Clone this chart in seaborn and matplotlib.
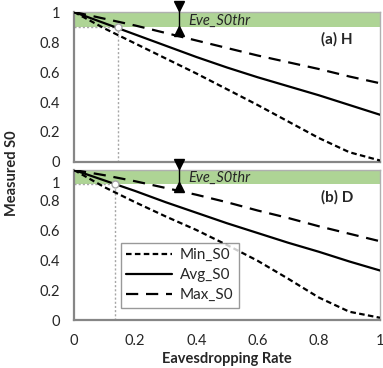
import pandas as pd
import matplotlib
matplotlib.use('Agg')
import matplotlib.pyplot as plt
import seaborn as sns
import numpy as np

sns.set_style('white')
plt.rcParams['font.family'] = ['Lato', 'DejaVu Sans']

# Data
rate = [0.0, 0.1, 0.2, 0.3, 0.4, 0.5, 0.6, 0.7, 0.8, 0.9, 1.0]

h_min = [1.0, 0.89, 0.79, 0.69, 0.59, 0.485, 0.38, 0.27, 0.16, 0.065, 0.01]
h_avg = [1.0, 0.925, 0.85, 0.775, 0.70, 0.63, 0.565, 0.505, 0.445, 0.38, 0.315]
h_max = [1.0, 0.955, 0.91, 0.86, 0.81, 0.76, 0.71, 0.665, 0.62, 0.57, 0.525]

d_min = [1.0, 0.885, 0.785, 0.69, 0.60, 0.50, 0.395, 0.275, 0.15, 0.055, 0.015]
d_avg = [1.0, 0.93, 0.86, 0.785, 0.715, 0.645, 0.58, 0.515, 0.455, 0.39, 0.33]
d_max = [1.0, 0.965, 0.925, 0.88, 0.835, 0.785, 0.73, 0.68, 0.625, 0.575, 0.525]

series_names = ['Min_S0', 'Avg_S0', 'Max_S0']
panel_titles = ['(a) H', '(b) D']
thr_low = [0.9, 0.91]       # lower edge of the Eve_S0thr band
cross_x = [0.144, 0.134]    # where Avg_S0 meets the threshold
marker_x = 0.343

styles = {
    'Min_S0': (0, (2.5, 1.5)),
    'Avg_S0': 'solid',
    'Max_S0': (0, (5.5, 3.5)),
}

W, H = 383, 368
fig = plt.figure(figsize=(W / 100, H / 100), dpi=100)
ax_top = fig.add_axes([74 / W, (H - 162) / H, 306 / W, 150 / H])
ax_bot = fig.add_axes([74 / W, (H - 320) / H, 306 / W, 150 / H])

panels = [
    (ax_top, {'Min_S0': h_min, 'Avg_S0': h_avg, 'Max_S0': h_max}),
    (ax_bot, {'Min_S0': d_min, 'Avg_S0': d_avg, 'Max_S0': d_max}),
]

axis_gray = '#868686'
frame_gray = '#b0b0b0'
green = '#aed495'
fs = 10.5

for i, (ax, data) in enumerate(panels):
    df = pd.DataFrame({'rate': rate * 3,
                       'value': data['Min_S0'] + data['Avg_S0'] + data['Max_S0'],
                       'series': np.repeat(series_names, len(rate))})

    # threshold band
    ax.axhspan(thr_low[i], 1.0, color=green, lw=0, zorder=0)

    for name in series_names:
        sub = df[df['series'] == name]
        sns.lineplot(data=sub, x='rate', y='value', ax=ax, color='black',
                     linewidth=1.6, linestyle=styles[name], label=name,
                     legend=False, zorder=3)

    # dotted guide lines to the crossing point
    ax.plot([0, cross_x[i]], [thr_low[i], thr_low[i]], color='#a6a6a6',
            linestyle=(0, (1.5, 1.5)), lw=1, zorder=2)
    ax.plot([cross_x[i], cross_x[i]], [0, thr_low[i]], color='#a6a6a6',
            linestyle=(0, (1.5, 1.5)), lw=1, zorder=2)
    ax.plot([cross_x[i]], [thr_low[i]], marker='o', ms=5, mfc='white',
            mec='#a6a6a6', mew=1, zorder=4)

    # band-width marker
    ax.plot([marker_x, marker_x], [1.067, thr_low[i] - 0.05], color='black',
            lw=1, clip_on=False, zorder=6)
    ax.plot([marker_x], [1.04], marker='v', color='black', ms=7,
            clip_on=False, zorder=6)
    ax.plot([marker_x], [thr_low[i] - 0.025], marker='^', color='black', ms=7,
            clip_on=False, zorder=6)

    ax.text(0.373, (thr_low[i] + 1.0) / 2 - 0.01, 'Eve_S0thr', style='italic',
            fontsize=fs, va='center', ha='left', zorder=5)
    ax.text(0.86, 0.815, panel_titles[i], fontweight='bold', fontsize=11,
            ha='center', va='center')

    ax.set_xlim(0, 1)
    ax.set_ylim(0, 1)
    ax.set_xticks(np.arange(0, 1.01, 0.2))
    ax.set_xticks(np.arange(0, 1.01, 0.1), minor=True)
    ax.set_xticklabels(['0', '0.2', '0.4', '0.6', '0.8', '1'])
    ax.set_yticks(np.arange(0, 1.01, 0.2))
    ax.set_yticks(np.arange(0, 1.01, 0.1), minor=True)
    ax.set_yticklabels(['0', '0.2', '0.4', '0.6', '0.8', '1'])
    ax.tick_params(which='both', direction='in', length=4, width=1,
                   color=axis_gray, labelsize=fs)
    ax.tick_params(axis='y', pad=10)
    ax.tick_params(axis='x', pad=10)
    ax.set_xlabel('')
    ax.set_ylabel('')

    for side in ['left', 'bottom']:
        ax.spines[side].set_color(axis_gray)
        ax.spines[side].set_linewidth(1.6)
    for side in ['top', 'right']:
        ax.spines[side].set_color(frame_gray)
        ax.spines[side].set_linewidth(1.0)
    ax.set_facecolor('white')

ax_top.tick_params(axis='x', labelbottom=False)

# bottom panel: the "1" label sits a bit lower to clear the top panel's "0"
labels = ax_bot.get_yticklabels()
labels[-1].set_visible(False)
ax_bot.text(-0.046, 0.91, '1', transform=ax_bot.get_yaxis_transform(),
            ha='right', va='center', fontsize=fs)

fig.text((74 + 153) / W, (H - 359) / H, 'Eavesdropping Rate',
         fontweight='bold', fontsize=10.5, ha='center', va='center')

fig.text(12 / W, 0.53, 'Measured S0', rotation=90, fontweight='bold',
         fontsize=10.5, ha='center', va='center')

leg = ax_bot.legend(loc='upper left', bbox_to_anchor=(0.154, 0.515),
                    fontsize=11, frameon=True, fancybox=False,
                    handlelength=3.0, borderpad=0.35, labelspacing=0.4,
                    handletextpad=0.5, borderaxespad=0)
leg.get_frame().set_edgecolor('#808080')
leg.get_frame().set_linewidth(1.0)

fig.savefig('out.png', dpi=100)
